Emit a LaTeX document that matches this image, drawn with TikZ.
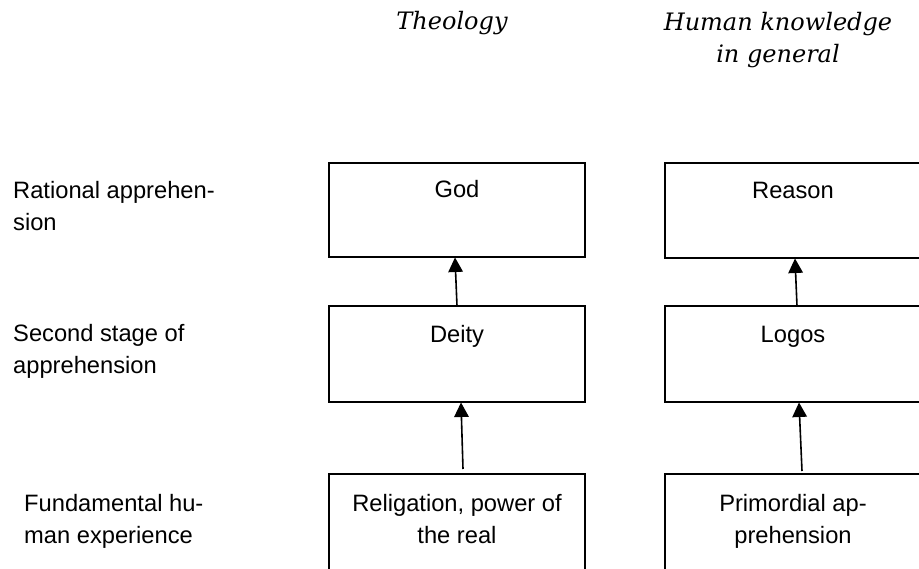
\documentclass[tikz,border=0pt]{standalone}
\usepackage{fontspec}
\setmainfont{Liberation Sans}
\newfontfamily\titlefont{DejaVu Serif}
\usetikzlibrary{arrows.meta}
\tikzset{
  box/.style={draw=black, line width=1.8pt, anchor=north west, inner sep=0pt, outer sep=0pt, minimum width=256pt},
  boxtext/.style={anchor=base, inner sep=0pt, align=center, font=\fontsize{23.7}{32}\selectfont},
  sidelabel/.style={anchor=base west, inner sep=0pt, align=left, font=\fontsize{23.7}{31.5}\selectfont},
  coltitle/.style={anchor=base, inner sep=0pt, align=center, font=\titlefont\itshape\fontsize{24}{32}\selectfont},
  arr/.style={line width=1.6pt, -{Triangle[length=14.5pt,width=14.5pt]}}
}
\begin{document}
\begin{tikzpicture}[x=1pt,y=-1pt]
\useasboundingbox (0,0) rectangle (919,569);
\clip (0,0) rectangle (919,569);
\fill[white] (0,0) rectangle (919,569);
% column titles (multi-line nodes: base = last line)
\node[coltitle] (ttheo) at (452,30) {Theology};
\node[coltitle] (thuman) at (778,62.7) {Human knowledge\\in general};
% side labels
\node[sidelabel] (lrat) at (13,230.5) {Rational apprehen-\\sion};
\node[sidelabel] (lsec) at (13,373.5) {Second stage of\\apprehension};
\node[sidelabel] (lfun) at (24,543) {Fundamental hu-\\man experience};
% left column boxes
\node[box, minimum height=94pt] (god) at (329,163) {};
\node[box, minimum height=96pt] (dei) at (329,306) {};
\node[box, minimum height=106pt] (rel) at (329,474) {};
% right column boxes
\node[box, minimum height=95pt] (rea) at (665,163) {};
\node[box, minimum height=96pt] (log) at (665,306) {};
\node[box, minimum height=106pt] (pri) at (665,474) {};
% box texts
\node[boxtext] (tgod) at (457,197.5) {God};
\node[boxtext] (tdei) at (457,343) {Deity};
\node[boxtext] (trel) at (457,543) {Religation, power of\\the real};
\node[boxtext] (trea) at (793,199) {Reason};
\node[boxtext] (tlog) at (793,343) {Logos};
\node[boxtext] (tpri) at (793,543) {Primordial ap-\\prehension};
% arrows
\draw[arr] ([xshift=0pt]dei.north) -- ([xshift=-2pt,yshift=-0.5pt]god.south);
\draw[arr] ([xshift=6pt,yshift=5pt]rel.north) -- ([xshift=4pt,yshift=-0.5pt]dei.south);
\draw[arr] ([xshift=4pt]log.north) -- ([xshift=2pt,yshift=-0.5pt]rea.south);
\draw[arr] ([xshift=9pt,yshift=3pt]pri.north) -- ([xshift=6pt,yshift=-0.5pt]log.south);
\end{tikzpicture}
\end{document}
